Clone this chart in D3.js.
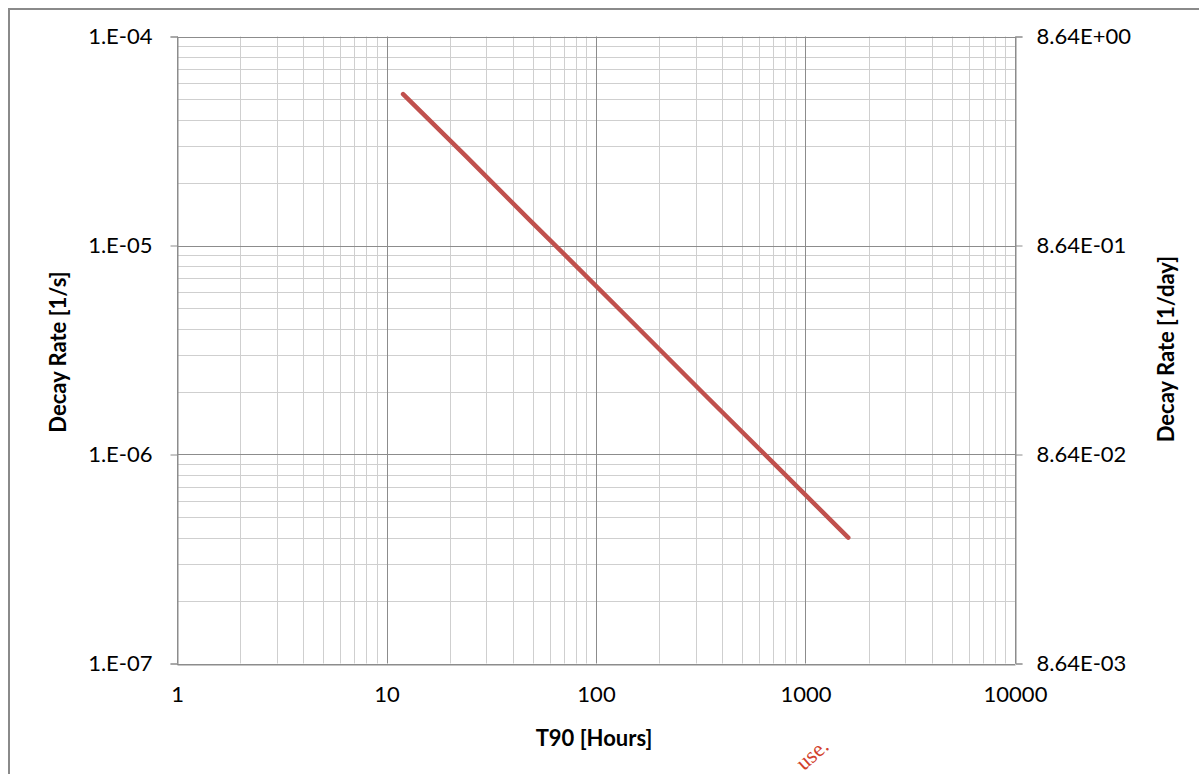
<!DOCTYPE html>
<html>
<head>
<meta charset="utf-8">
<script src="https://cdn.jsdelivr.net/npm/d3@7"></script>
<style>
  html, body { margin: 0; padding: 0; background: #fff; }
  svg text { font-family: Lato, "Open Sans", sans-serif; fill: #000; }
</style>
</head>
<body>
<div id="chart"></div>
<script>
// values
const t90Hours = [12, 24, 48, 72, 144, 336, 720, 1600];
const decayRate = [5.3e-5, 2.67e-5, 1.33e-5, 8.9e-6, 4.45e-6, 1.9e-6, 8.9e-7, 4.0e-7];
const xTicks = [1, 10, 100, 1000, 10000];
const yTicks = [1e-7, 1e-6, 1e-5, 1e-4];
const y2Ticks = [8.64e-3, 8.64e-2, 8.64e-1, 8.64];

const width = 1199, height = 774;
const margin = {top: 36.5, right: 184, bottom: 110.5, left: 177};

const svg = d3.select('#chart').append('svg')
    .attr('width', width)
    .attr('height', height);

// outer chart border (only left/top visible)
svg.append('path')
    .attr('d', 'M9,774 L9,9 L1199,9')
    .attr('fill', 'none')
    .attr('stroke', '#8a8a8a')
    .attr('stroke-width', 2);

const x = d3.scaleLog().domain([1, 10000]).range([margin.left, width - margin.right]);
const y = d3.scaleLog().domain([1e-7, 1e-4]).range([height - margin.bottom, margin.top]);
const y2 = d3.scaleLog().domain([8.64e-3, 8.64]).range([height - margin.bottom, margin.top]);

// minor values: 2..9 within each decade
function minors(lo, hi){
    let out = [];
    for (let e = lo; e < hi; e++){
        for (let m = 2; m <= 9; m++) out.push(m * Math.pow(10, e));
    }
    return out;
}

const grid = svg.append('g').attr('class', 'grid');

grid.selectAll('.xminor').data(minors(0, 4)).enter().append('line')
    .attr('x1', d => Math.round(x(d)) + 0.5).attr('x2', d => Math.round(x(d)) + 0.5)
    .attr('y1', y.range()[0]).attr('y2', y.range()[1])
    .attr('stroke', '#cfcfcf').attr('stroke-width', 1);

grid.selectAll('.yminor').data(minors(-7, -4)).enter().append('line')
    .attr('y1', d => Math.round(y(d)) + 0.5).attr('y2', d => Math.round(y(d)) + 0.5)
    .attr('x1', x.range()[0]).attr('x2', x.range()[1])
    .attr('stroke', '#cfcfcf').attr('stroke-width', 1);

grid.selectAll('.xmajor').data(xTicks).enter().append('line')
    .attr('x1', d => Math.round(x(d)) + 0.5).attr('x2', d => Math.round(x(d)) + 0.5)
    .attr('y1', y.range()[0]).attr('y2', y.range()[1])
    .attr('stroke', '#8c8c8c').attr('stroke-width', 1);

grid.selectAll('.ymajor').data(yTicks).enter().append('line')
    .attr('y1', d => Math.round(y(d)) + 0.5).attr('y2', d => Math.round(y(d)) + 0.5)
    .attr('x1', x.range()[0]).attr('x2', x.range()[1])
    .attr('stroke', '#8c8c8c').attr('stroke-width', 1);

// axes
const fmtLeft = d => '1.E-' + String(Math.round(-Math.log10(d))).padStart(2, '0');
const fmtRight = d => {
    let e = Math.round(Math.log10(d / 8.64));
    return '8.64E' + (e < 0 ? '-' : '+') + String(Math.abs(e)).padStart(2, '0');
};

function styleAxis(g){
    g.select('.domain').attr('stroke', '#8c8c8c');
    g.selectAll('.tick line').attr('stroke', '#8c8c8c');
    g.selectAll('.tick text').attr('font-size', 22).attr('fill', '#000')
        .style('font-family', 'Lato, "Open Sans", sans-serif');
}

svg.append('g')
    .attr('transform', 'translate(0,' + (Math.round(y.range()[0]) + 0.5) + ')')
    .call(d3.axisBottom(x).tickValues(xTicks).tickFormat(d3.format('d')).tickSize(0).tickPadding(22))
    .call(styleAxis);

svg.append('g')
    .attr('transform', 'translate(' + (Math.round(x.range()[0]) + 0.5) + ',0)')
    .call(d3.axisLeft(y).tickValues(yTicks).tickFormat(fmtLeft).tickSize(7).tickPadding(18))
    .call(styleAxis);

svg.append('g')
    .attr('transform', 'translate(' + (Math.round(x.range()[1]) + 0.5) + ',0)')
    .call(d3.axisRight(y2).tickValues(y2Ticks).tickFormat(fmtRight).tickSize(7).tickPadding(14))
    .call(styleAxis);

// data line
const line = d3.line()
    .x((d, i) => x(t90Hours[i]))
    .y(d => y(d));

svg.append('path')
    .datum(decayRate)
    .attr('d', line)
    .attr('fill', 'none')
    .attr('stroke', '#c0504d')
    .attr('stroke-width', 4.5)
    .attr('stroke-linecap', 'round')
    .attr('stroke-linejoin', 'round');

// axis titles
svg.append('text')
    .text('T90 [Hours]')
    .attr('x', 594).attr('y', 737)
    .attr('text-anchor', 'middle').attr('dominant-baseline', 'central')
    .attr('font-size', 22).attr('font-weight', 'bold');

svg.append('text')
    .text('Decay Rate [1/s]')
    .attr('transform', 'translate(57,352) rotate(-90)')
    .attr('text-anchor', 'middle').attr('dominant-baseline', 'central')
    .attr('font-size', 22).attr('font-weight', 'bold');

svg.append('text')
    .text('Decay Rate [1/day]')
    .attr('transform', 'translate(1165,349) rotate(-90)')
    .attr('text-anchor', 'middle').attr('dominant-baseline', 'central')
    .attr('font-size', 22).attr('font-weight', 'bold');

// watermark fragment
svg.append('text')
    .text('use.')
    .attr('transform', 'translate(830,748) rotate(-42)')
    .attr('text-anchor', 'end')
    .attr('font-size', 22)
    .style('font-family', '"Liberation Serif", "DejaVu Serif", serif')
    .style('fill', '#d2402a');
</script>
</body>
</html>
